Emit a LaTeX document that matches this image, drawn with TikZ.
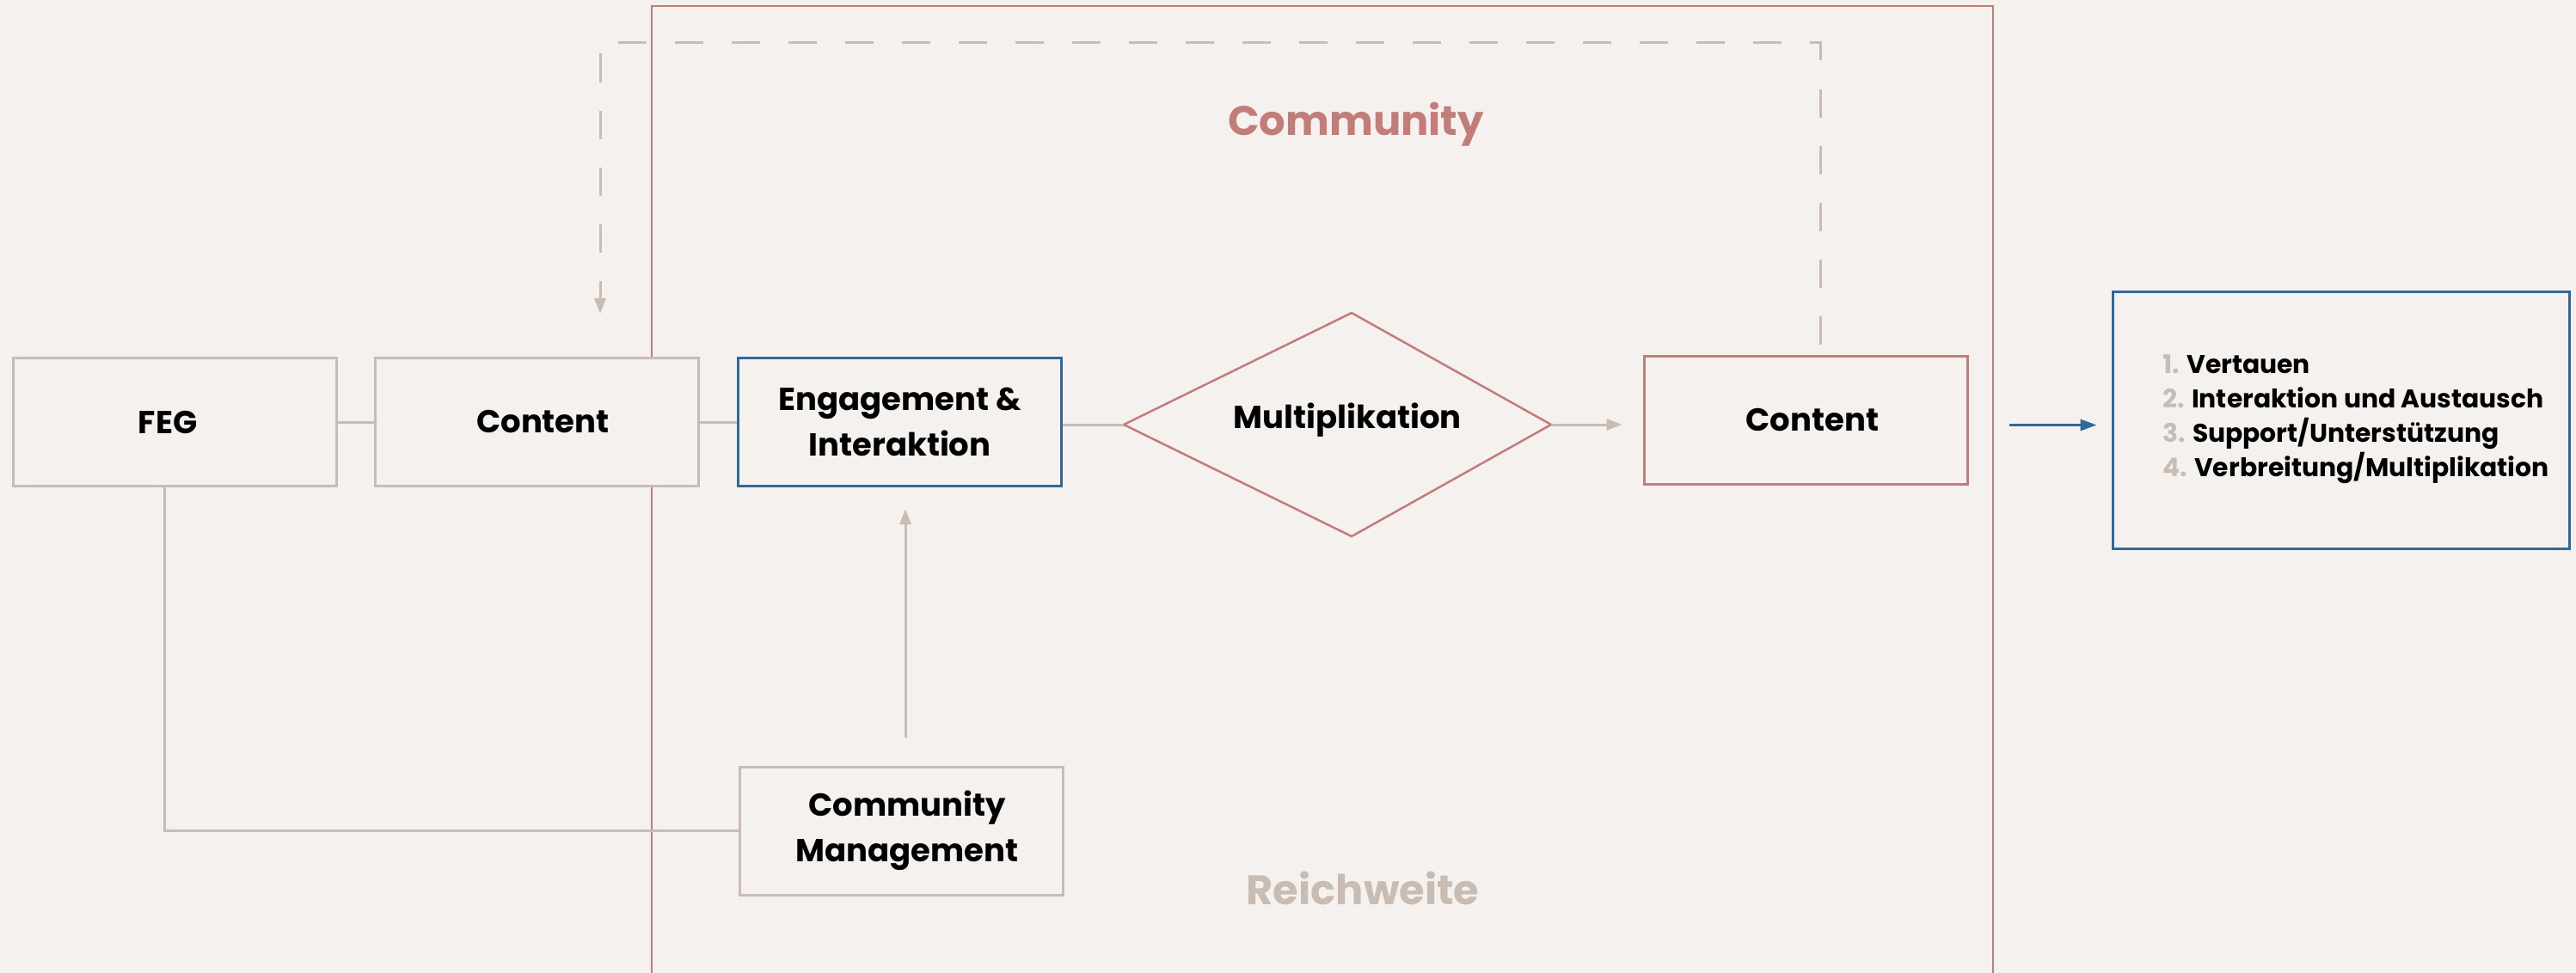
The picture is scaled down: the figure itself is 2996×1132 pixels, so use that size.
\documentclass[tikz,border=0pt]{standalone}
\usepackage{fontspec}
\setmainfont{Poppins}
\usetikzlibrary{arrows.meta}
\definecolor{bgc}{HTML}{F4F1EE}
\definecolor{beige}{HTML}{C9BDB3}
\definecolor{rosered}{HTML}{C27D7B}
\definecolor{darkblue}{HTML}{2F6899}
\begin{document}
\begin{tikzpicture}[x=1pt,y=-1pt,
  boxfont/.style={font=\fontsize{37}{53}\selectfont\bfseries,text=black},
  box/.style={draw=beige,line width=3pt,fill=bgc,minimum width=376pt,minimum height=149pt,
    inner sep=0pt,align=center,boxfont},
  conn/.style={draw=beige,line width=3pt},
  tipbeige/.style={-{Triangle[length=18pt,width=13pt]}},
  dashline/.style={draw=beige,line width=3pt,dash pattern=on 33pt off 33pt},
  biglabel/.style={font=\fontsize{48}{60}\selectfont\bfseries,anchor=base,inner sep=0pt},
  listbox/.style={draw=darkblue,line width=3pt,fill=bgc,minimum width=531pt,minimum height=299pt,inner sep=0pt},
  listtext/.style={anchor=west,inner sep=0pt,align=left,font=\fontsize{29.8}{40}\selectfont\bfseries,text=black}]
\useasboundingbox (0,0) rectangle (2996,1132);
\fill[bgc] (0,0) rectangle (2996,1132);

% coordinates for free ends and the diamond
\coordinate (dtop) at (698,50);
\coordinate (rbl) at (758,1140);
\coordinate (rtl) at (758,7);
\coordinate (rtr) at (2318,7);
\coordinate (rbr) at (2318,1140);
\coordinate (mw) at (1307,494);
\coordinate (me) at (1804,494);
\coordinate (mn) at (1572,364);
\coordinate (ms) at (1572,624);

% big community frame (behind the boxes)
\draw[rosered,line width=2.5pt] (rbl) -- (rtl) -- (rtr) -- (rbr);

% nodes
\node[box] (feg) at (203,491) {\hspace*{-16pt}FEG};
\node[box] (c1) at (624.5,491) {\hspace*{14pt}Content};
\node[box,draw=darkblue] (eng) at (1046.5,491) {Engagement \&\\Interaktion};
\node[box] (cm) at (1048,966.5) {\hspace*{14pt}Community\\\hspace*{14pt}Management};
\node[box,draw=rosered] (c2) at (2100,488.5) {\hspace*{16pt}Content};
\draw[rosered,line width=2.5pt,fill=bgc] (mw) -- (mn) -- (me) -- (ms) -- cycle;
\node[boxfont,inner sep=0pt] (mult) at (1567,489) {Multiplikation};
\node[listbox] (list) at (2722.5,488.5) {};
\node[listtext] (items) at (2515,488)
  {\textcolor{beige}{1.} Vertauen\\
   \textcolor{beige}{2.} Interaktion und Austausch\\
   \textcolor{beige}{3.} Support/Unterstützung\\
   \textcolor{beige}{4.} Verbreitung/Multiplikation};

\node[biglabel,text=rosered] (lcomm) at (1577,157) {Community};
\node[biglabel,text=beige] (lreach) at (1585,1052) {Reichweite};

% connectors
\draw[conn] ([xshift=-12pt]feg.south) |- (cm.west);
\draw[conn] (feg.east) -- (c1.west);
\draw[conn] (c1.east) -- (eng.west);
\draw[conn] (eng.east |- mw) -- (mw);
\draw[conn,tipbeige,shorten >=24pt] (me) -- (me -| c2.west);
\draw[conn,tipbeige,shorten <=33pt,shorten >=25pt] ([xshift=5pt]cm.north) -- ([xshift=5pt]cm.north |- eng.south);
\draw[dashline] ([xshift=17pt,yshift=12pt]c2.north) |- (dtop) -- ([yshift=51pt]dtop |- c1.north);
\draw[conn,tipbeige] ([yshift=60pt]dtop |- c1.north) -- ([yshift=50pt]dtop |- c1.north);
\draw[line width=3pt,darkblue,-{Triangle[length=19pt,width=13pt]}] ([xshift=47pt,yshift=-6pt]c2.east) -- ([xshift=-17pt,yshift=-6pt]list.west);
\end{tikzpicture}
\end{document}
